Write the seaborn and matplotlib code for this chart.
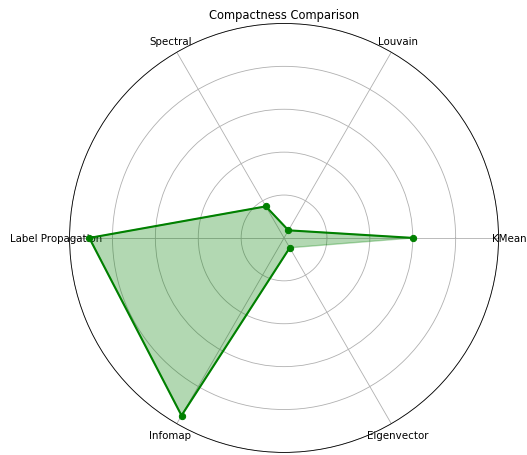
import numpy as np
import matplotlib
matplotlib.use("Agg")
import matplotlib.pyplot as plt
import seaborn as sns

# 알고리즘별 compactness 값 (정규화)
methods = ['KMeans', 'Louvain', 'Spectral', 'Label Propagation', 'Infomap', 'Eigenvector']
compactness = [0.603, 0.041, 0.17, 0.908, 0.956, 0.053]

sns.set_style('white')
plt.rcParams['font.family'] = ['DejaVu Sans']
plt.rcParams['text.color'] = 'black'
plt.rcParams['xtick.color'] = 'black'
plt.rcParams['ytick.color'] = 'black'

angles = np.linspace(0, 2 * np.pi, len(methods), endpoint=False).tolist()
vals = compactness + compactness[:1]
angles_closed = angles + angles[:1]

fig = plt.figure(figsize=(5.27, 4.56), dpi=100)
ax = fig.add_axes([0.132, 0.0055, 0.814, 0.941], projection='polar')

sns.lineplot(x=angles_closed, y=vals, ax=ax, color='green', linewidth=1.5,
             marker='o', markersize=4.5, markeredgecolor='green', sort=False)
ax.fill(angles_closed, vals, color='green', alpha=0.3)

ax.set_xticks(angles)
ax.set_xticklabels(methods, fontsize=7.4)
ax.tick_params(axis='x', pad=-1)
ax.set_ylim(0, 1)
ax.set_yticks([0.2, 0.4, 0.6, 0.8, 1.0])
ax.set_yticklabels([])
ax.grid(True, color='#b0b0b0', linewidth=0.6)
ax.spines['polar'].set_color('black')
ax.spines['polar'].set_linewidth(0.6)
ax.set_title('Compactness Comparison', fontsize=8.3, pad=4)

plt.savefig('out.png', dpi=100)
